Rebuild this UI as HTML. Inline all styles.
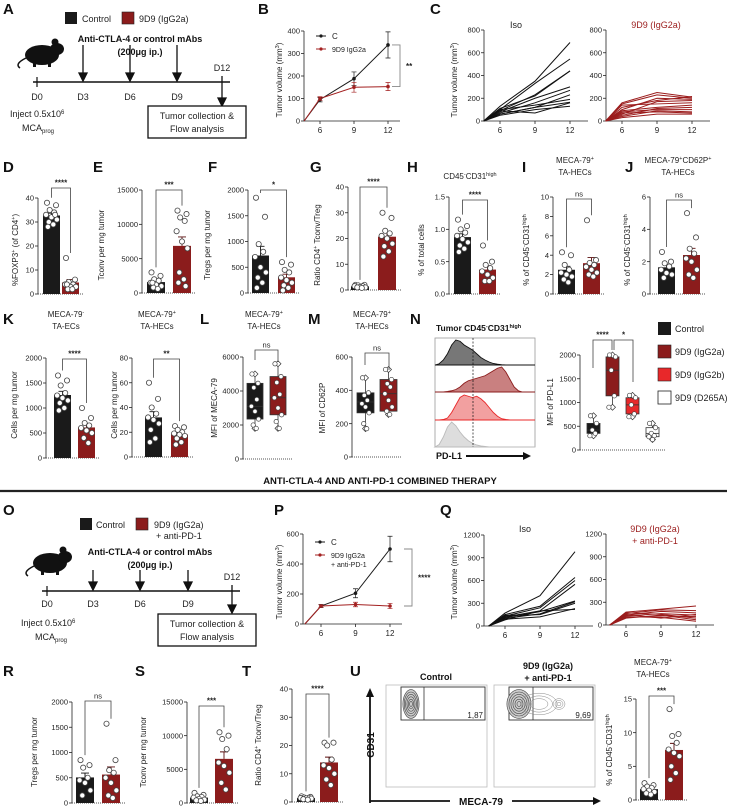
<!DOCTYPE html>
<html><head><meta charset="utf-8">
<style>
html,body{margin:0;padding:0;background:#fff;}
svg{display:block;font-family:"Liberation Sans",sans-serif;}
.lt{font-weight:bold;font-size:15px;fill:#111;}
.t8{font-size:8px;fill:#222;}
.t9{font-size:9px;fill:#222;}
.b9{font-size:9px;font-weight:bold;fill:#111;}
</style></head>
<body>
<svg id="fig" width="729" height="810" viewBox="0 0 729 810" xmlns="http://www.w3.org/2000/svg">
<!-- Panel letters -->
<g>
<text class="lt" x="3" y="14">A</text><text class="lt" x="258" y="14">B</text><text class="lt" x="430" y="14">C</text>
<text class="lt" x="3" y="172">D</text><text class="lt" x="93" y="172">E</text><text class="lt" x="208" y="172">F</text><text class="lt" x="310" y="172">G</text><text class="lt" x="407" y="172">H</text><text class="lt" x="522" y="172">I</text><text class="lt" x="625" y="172">J</text>
<text class="lt" x="3" y="324">K</text><text class="lt" x="200" y="324">L</text><text class="lt" x="308" y="324">M</text><text class="lt" x="410" y="324">N</text>
<text class="lt" x="3" y="515">O</text><text class="lt" x="274" y="515">P</text><text class="lt" x="440" y="515">Q</text>
<text class="lt" x="3" y="676">R</text><text class="lt" x="135" y="676">S</text><text class="lt" x="242" y="676">T</text><text class="lt" x="350" y="676">U</text>
</g>

<!-- Panel A schematic -->
<g>
<rect x="65" y="12" width="12" height="12" fill="#1a1a1a"/>
<text class="t9" x="82" y="22">Control</text>
<rect x="122" y="12" width="12" height="12" fill="#8b1c1c" stroke="#222" stroke-width="0.6"/>
<text class="t9" x="139" y="22">9D9 (IgG2a)</text>
<text class="b9" x="140" y="42" text-anchor="middle">Anti-CTLA-4 or control mAbs</text>
<text class="b9" x="140" y="55" text-anchor="middle">(200μg ip.)</text>
<g fill="#111">
<ellipse cx="42" cy="55" rx="17" ry="10"/><ellipse cx="57" cy="49" rx="7" ry="6"/><circle cx="55" cy="42" r="3.5"/><path d="M26 58 Q14 64 20 68" stroke="#111" stroke-width="1.5" fill="none"/><rect x="33" y="62" width="3" height="5"/><rect x="48" y="62" width="3" height="5"/>
</g>
<line x1="33" y1="82" x2="230" y2="82" stroke="#111" stroke-width="1.5"/>
<g stroke="#111" stroke-width="1.2"><line x1="37" y1="77" x2="37" y2="87"/></g>
<g stroke="#111" stroke-width="1.3" fill="#111">
<line x1="83" y1="45" x2="83" y2="76"/><path d="M79 73 L87 73 L83 81Z"/>
<line x1="130" y1="45" x2="130" y2="76"/><path d="M126 73 L134 73 L130 81Z"/>
<line x1="177" y1="45" x2="177" y2="76"/><path d="M173 73 L181 73 L177 81Z"/>
<line x1="222" y1="76" x2="222" y2="100"/><path d="M218 98 L226 98 L222 106Z"/>
</g>
<g class="t9">
<text x="37" y="100" text-anchor="middle">D0</text><text x="83" y="100" text-anchor="middle">D3</text><text x="130" y="100" text-anchor="middle">D6</text><text x="177" y="100" text-anchor="middle">D9</text><text x="222" y="71" text-anchor="middle">D12</text>
<text x="10" y="117">Inject 0.5x10<tspan font-size="6" dy="-3">6</tspan></text>
<text x="22" y="131">MCA<tspan font-size="6" dy="2">prog</tspan></text>
</g>
<rect x="148" y="106" width="98" height="32" fill="#fff" stroke="#111" stroke-width="1.3"/>
<text class="t9" x="197" y="119" text-anchor="middle">Tumor collection &amp;</text>
<text class="t9" x="197" y="132" text-anchor="middle">Flow analysis</text>
</g>

<!-- Panel O schematic -->
<g>
<rect x="80" y="518" width="12" height="12" fill="#1a1a1a"/>
<text class="t9" x="96" y="528">Control</text>
<rect x="136" y="518" width="12" height="12" fill="#8b1c1c" stroke="#222" stroke-width="0.6"/>
<text class="t9" x="154" y="528">9D9 (IgG2a)</text>
<text class="t9" x="156" y="539">+ anti-PD-1</text>
<text class="b9" x="150" y="555" text-anchor="middle">Anti-CTLA-4 or control mAbs</text>
<text class="b9" x="150" y="568" text-anchor="middle">(200μg ip.)</text>
<g fill="#111">
<ellipse cx="50" cy="563" rx="17" ry="10"/><ellipse cx="65" cy="557" rx="7" ry="6"/><circle cx="63" cy="550" r="3.5"/><path d="M34 566 Q22 572 28 576" stroke="#111" stroke-width="1.5" fill="none"/><rect x="41" y="570" width="3" height="5"/><rect x="56" y="570" width="3" height="5"/>
</g>
<line x1="42" y1="591" x2="240" y2="591" stroke="#111" stroke-width="1.5"/>
<line x1="47" y1="586" x2="47" y2="596" stroke="#111" stroke-width="1.2"/>
<g stroke="#111" stroke-width="1.3" fill="#111">
<line x1="93" y1="570" x2="93" y2="585"/><path d="M89 582 L97 582 L93 590Z"/>
<line x1="140" y1="570" x2="140" y2="585"/><path d="M136 582 L144 582 L140 590Z"/>
<line x1="188" y1="570" x2="188" y2="585"/><path d="M184 582 L192 582 L188 590Z"/>
<line x1="232" y1="585" x2="232" y2="607"/><path d="M228 605 L236 605 L232 613Z"/>
</g>
<g class="t9"><text x="47" y="607" text-anchor="middle">D0</text><text x="93" y="607" text-anchor="middle">D3</text><text x="140" y="607" text-anchor="middle">D6</text><text x="188" y="607" text-anchor="middle">D9</text><text x="232" y="580" text-anchor="middle">D12</text>
<text x="21" y="626">Inject 0.5x10<tspan font-size="6" dy="-3">6</tspan></text><text x="35" y="640">MCA<tspan font-size="6" dy="2">prog</tspan></text></g>
<rect x="158" y="614" width="98" height="32" fill="#fff" stroke="#111" stroke-width="1.3"/>
<text class="t9" x="207" y="627" text-anchor="middle">Tumor collection &amp;</text>
<text class="t9" x="207" y="640" text-anchor="middle">Flow analysis</text>
</g>

<!-- Section header -->
<text x="380" y="484" text-anchor="middle" font-size="9.5" font-weight="bold" fill="#111">ANTI-CTLA-4 AND ANTI-PD-1 COMBINED THERAPY</text>
<line x1="0" y1="491" x2="727" y2="491" stroke="#222" stroke-width="2.2"/>

<!-- Static titles and y labels -->
<g class="t8" text-anchor="middle">
<text x="470" y="179">CD45<tspan font-size="5.5" dy="-3">-</tspan><tspan dy="3">CD31</tspan><tspan font-size="5.5" dy="-3">high</tspan></text>
<text x="575" y="163">MECA-79<tspan font-size="5.5" dy="-3">+</tspan></text><text x="575" y="175">TA-HECs</text>
<text x="678" y="163">MECA-79<tspan font-size="5.5" dy="-3">+</tspan><tspan dy="3">CD62P</tspan><tspan font-size="5.5" dy="-3">+</tspan></text><text x="678" y="175">TA-HECs</text>
<text x="66" y="317">MECA-79<tspan font-size="5.5" dy="-3">-</tspan></text><text x="66" y="329">TA-ECs</text>
<text x="157" y="317">MECA-79<tspan font-size="5.5" dy="-3">+</tspan></text><text x="157" y="329">TA-HECs</text>
<text x="264" y="317">MECA-79<tspan font-size="5.5" dy="-3">+</tspan></text><text x="264" y="329">TA-HECs</text>
<text x="372" y="317">MECA-79<tspan font-size="5.5" dy="-3">+</tspan></text><text x="372" y="329">TA-HECs</text>
<text x="653" y="665">MECA-79<tspan font-size="5.5" dy="-3">+</tspan></text><text x="653" y="677">TA-HECs</text>
</g>
<g id="ylabels" class="t8" text-anchor="middle">
<text transform="translate(18,250) rotate(-90)">%FOXP3<tspan font-size="5.5" dy="-3">+</tspan><tspan dy="3"> (of CD4</tspan><tspan font-size="5.5" dy="-3">+</tspan><tspan dy="3">)</tspan></text>
<text transform="translate(104,245) rotate(-90)">Tconv per mg tumor</text>
<text transform="translate(210,245) rotate(-90)">Tregs per mg tumor</text>
<text transform="translate(320,245) rotate(-90)">Ratio CD4<tspan font-size="5.5" dy="-3">+</tspan><tspan dy="3"> Tconv/Treg</tspan></text>
<text transform="translate(424,250) rotate(-90)">% of total cells</text>
<text transform="translate(529,250) rotate(-90)">% of CD45<tspan font-size="5.5" dy="-3">-</tspan><tspan dy="3">CD31</tspan><tspan font-size="5.5" dy="-3">high</tspan></text>
<text transform="translate(630,250) rotate(-90)">% of CD45<tspan font-size="5.5" dy="-3">-</tspan><tspan dy="3">CD31</tspan><tspan font-size="5.5" dy="-3">high</tspan></text>
<text transform="translate(17,405) rotate(-90)">Cells per mg tumor</text>
<text transform="translate(117,405) rotate(-90)">Cells per mg tumor</text>
<text transform="translate(217,408) rotate(-90)">MFI of MECA-79</text>
<text transform="translate(325,408) rotate(-90)">MFI of CD62P</text>
<text transform="translate(553,402) rotate(-90)">MFI of PD-L1</text>
<text transform="translate(37,752) rotate(-90)">Tregs per mg tumor</text>
<text transform="translate(146,752) rotate(-90)">Tconv per mg tumor</text>
<text transform="translate(261,745) rotate(-90)">Ratio CD4<tspan font-size="5.5" dy="-3">+</tspan><tspan dy="3"> Tconv/Treg</tspan></text>
<text transform="translate(612,750) rotate(-90)">% of CD45<tspan font-size="5.5" dy="-3">-</tspan><tspan dy="3">CD31</tspan><tspan font-size="5.5" dy="-3">high</tspan></text>
<text transform="translate(282,80) rotate(-90)">Tumor volume (mm<tspan font-size="5.5" dy="-3">3</tspan><tspan dy="3">)</tspan></text>
<text transform="translate(457,80) rotate(-90)">Tumor volume (mm<tspan font-size="5.5" dy="-3">3</tspan><tspan dy="3">)</tspan></text>
<text transform="translate(282,582) rotate(-90)">Tumor volume (mm<tspan font-size="5.5" dy="-3">3</tspan><tspan dy="3">)</tspan></text>
<text transform="translate(457,582) rotate(-90)">Tumor volume (mm<tspan font-size="5.5" dy="-3">3</tspan><tspan dy="3">)</tspan></text>
</g>
<g class="t9" text-anchor="middle">
<text x="516" y="28">Iso</text><text x="656" y="28" fill="#9b1c1c">9D9 (IgG2a)</text>
<text x="525" y="532">Iso</text><text x="655" y="532" fill="#9b1c1c">9D9 (IgG2a)</text><text x="655" y="544" fill="#9b1c1c">+ anti-PD-1</text>
</g>

<!-- N legend -->
<g>
<rect x="658" y="322" width="13" height="13" fill="#1a1a1a"/><text class="t9" x="675" y="332">Control</text>
<rect x="658" y="345" width="13" height="13" fill="#8b1c1c" stroke="#222" stroke-width="0.6"/><text class="t9" x="675" y="355">9D9 (IgG2a)</text>
<rect x="658" y="368" width="13" height="13" fill="#e8282a" stroke="#222" stroke-width="0.6"/><text class="t9" x="675" y="378">9D9 (IgG2b)</text>
<rect x="658" y="391" width="13" height="13" fill="#fff" stroke="#222" stroke-width="0.8"/><text class="t9" x="675" y="401">9D9 (D265A)</text>
</g>
<text x="436" y="331" font-size="8.5" font-weight="bold" fill="#111">Tumor CD45<tspan font-size="5.5" dy="-3">-</tspan><tspan dy="3">CD31</tspan><tspan font-size="5.5" dy="-3">high</tspan></text>
<text x="436" y="459" font-size="9" font-weight="bold" fill="#111">PD-L1</text>
<g><line x1="466" y1="456" x2="525" y2="456" stroke="#111" stroke-width="2"/><path d="M523 452 L531 456 L523 460Z" fill="#111"/></g>

<!-- U flow labels -->
<text x="436" y="680" text-anchor="middle" class="b9">Control</text>
<text x="548" y="669" text-anchor="middle" class="b9">9D9 (IgG2a)</text>
<text x="548" y="681" text-anchor="middle" class="b9">+ anti-PD-1</text>
<g><line x1="370" y1="803" x2="370" y2="695" stroke="#111" stroke-width="1.8"/><path d="M366 697 L370 688 L374 697Z" fill="#111"/></g>
<text transform="translate(374,745) rotate(-90)" text-anchor="middle" class="b9" style="font-size:10px">CD31</text>
<g><line x1="370" y1="801" x2="595" y2="801" stroke="#111" stroke-width="1.8"/><path d="M593 797 L601 801 L593 805Z" fill="#111"/></g>
<rect x="450" y="793" width="62" height="14" fill="#fff"/>
<text x="481" y="805" text-anchor="middle" class="b9" style="font-size:10px">MECA-79</text>

<g id="dyn"></g>
</svg>

<script>
// ===== Data =====
const growthDays = [4.6, 6, 9, 12];
const B_ctrl = [0, 95, 188, 338];
const B_ctrlErr = [0, 10, 30, 58];
const B_trt = [0, 100, 150, 153];
const B_trtErr = [0, 8, 22, 18];
const P_ctrl = [0, 120, 205, 500];
const P_ctrlErr = [0, 10, 30, 85];
const P_trt = [0, 120, 130, 120];
const P_trtErr = [0, 8, 15, 18];

const C_iso = [[0,130,350,690],[0,100,330,545],[0,90,230,440],[0,110,220,440],[0,80,200,300],[0,70,160,270],[0,60,120,230],[0,100,140,190],[0,60,120,165],[0,90,70,160],[0,50,100,130]];
const C_9d9 = [[0,160,250,210],[0,150,230,200],[0,120,180,215],[0,100,200,190],[0,60,170,180],[0,140,150,160],[0,90,120,140],[0,50,110,120],[0,80,100,100],[0,40,90,80],[0,70,80,70],[0,30,60,60]];
const Q_iso = [[0,170,400,980],[0,150,260,640],[0,130,240,600],[0,120,200,550],[0,110,190,330],[0,100,160,320],[0,140,150,300],[0,90,120,230],[0,80,200,220]];
const Q_9d9 = [[0,170,210,250],[0,150,200,190],[0,130,180,160],[0,120,150,130],[0,100,120,110],[0,160,140,90],[0,90,130,70],[0,110,100,50],[0,140,90,140]];

const D_ctrl = [38,37,35,34,33,32,31,30,29,28,33];
const D_trt = [15,6,5,4,4,3,3,2,2,4];
const E_ctrl = [3000,2500,2000,1800,1500,1200,1000,800,600,1500];
const E_trt = [12000,11500,11000,10500,9000,7500,6500,3000,2000,1500,1000];
const F_ctrl = [1850,1480,950,800,700,500,400,300,200,100];
const F_trt = [600,550,450,400,300,250,200,150,100,50];
const G_ctrl = [2,2,1.8,1.5,1.5,1.2,1,1,0.8];
const G_trt = [30,28,23,22,21,20,18,17,15,13];
const H_ctrl = [1.15,1.05,1.0,0.95,0.9,0.85,0.8,0.75,0.7,0.65];
const H_trt = [0.75,0.5,0.45,0.4,0.35,0.3,0.25,0.2,0.2];
const I_ctrl = [4.3,4,3,2.5,2.2,2,1.8,1.5,1.2];
const I_trt = [7.6,3.5,3.2,3,2.8,2.5,2.2,2,1.8];
const J_ctrl = [2.6,2,1.9,1.7,1.5,1.3,1.2,1];
const J_trt = [5,3.5,2.8,2.5,2.2,2,1.5,1.2,1];
const K1_ctrl = [1650,1550,1450,1300,1250,1200,1150,1100,1000,950];
const K1_trt = [1000,800,700,650,600,550,500,400,300];
const K2_ctrl = [60,47,40,35,32,30,27,22,15,12];
const K2_trt = [25,24,22,20,19,18,17,15,12,10];
const R_ctrl = [850,750,700,500,450,400,250,150];
const R_trt = [1570,850,650,600,500,400,250,150,100];
const S_ctrl = [1500,1200,1000,900,800,600,500,400,300];
const S_trt = [10500,10000,9500,8000,6000,5500,4500,3000,2000];
const T_ctrl = [2,1.8,1.6,1.5,1.4,1.3,1.2,1,0.8];
const T_trt = [21,21,20,15,13,12,10,8,6];
const U_ctrl = [2.5,2.2,2,1.8,1.6,1.4,1.2,1,0.8];
const U_trt = [13.5,9.8,9.5,8.5,7.5,7,6.5,5,4,3];

// box stats: [min, q1, median, q3, max]
const L_box = [[1800,2350,3100,4450,5000],[1800,2600,3600,4850,5600]];
const L_pts = [[5000,4450,4200,3500,3100,2800,2350,2000,1800],[5600,4850,4500,3800,3600,3000,2600,2200,1800]];
const M_box = [[170,265,330,385,475],[255,275,380,465,525]];
const M_pts = [[475,385,370,340,320,300,265,200,170],[525,465,440,420,380,340,300,275,255]];
const N_box = [[300,350,420,560,720],[900,1140,1680,1960,2000],[700,760,950,1100,1150],[220,280,350,470,560]];
const N_pts = [[720,560,420,350,300],[2000,1960,1680,1140,900],[1150,1100,950,760,700],[560,470,350,300,280,220]];

const Bticks = [0,100,200,300,400];
const Cticks = [0,200,400,600,800];
const Pticks = [0,200,400,600];
const Qticks = [0,300,600,900,1200];
const dayTicks = [6,9,12];

// N histograms (relative density over 25 bins)
const N_hist_ctrl = [0,0.05,0.2,0.45,0.8,1,0.95,0.8,0.7,0.6,0.45,0.3,0.2,0.12,0.06,0.03,0.01,0,0,0,0,0,0,0,0];
const N_hist_g2a = [0,0,0,0.02,0.05,0.1,0.2,0.35,0.45,0.5,0.55,0.6,0.65,0.75,0.85,0.95,1,0.8,0.5,0.2,0.05,0,0,0,0];
const N_hist_g2b = [0,0,0.02,0.08,0.3,0.6,0.9,1,0.95,0.9,0.95,0.85,0.7,0.5,0.3,0.15,0.05,0.02,0,0,0,0,0,0,0];
const N_hist_d265 = [0,0.1,0.4,0.8,1,0.85,0.6,0.4,0.25,0.15,0.08,0.04,0.02,0,0,0,0,0,0,0,0,0,0,0,0];

const U_gate = [1.87, 9.69];

// ===== Drawing =====
const NS = "http://www.w3.org/2000/svg";
const root = document.getElementById('dyn');
function mk(tag, attrs, parent) {
  const e = document.createElementNS(NS, tag);
  for (const k in attrs) e.setAttribute(k, attrs[k]);
  (parent || root).appendChild(e);
  return e;
}
const BLK = "#1a1a1a", DRED = "#8b1c1c", RED = "#e8282a";
function mean(a){return a.reduce((s,v)=>s+v,0)/a.length;}
function sem(a){const m=mean(a);return Math.sqrt(a.reduce((s,v)=>s+(v-m)*(v-m),0)/(a.length-1))/Math.sqrt(a.length);}
function fmt(v, dec){return dec ? v.toFixed(dec) : String(v);}

function yAxis(g, ax, y0, yT, ticks, dec) {
  const max = ticks[ticks.length-1];
  const ys = v => y0 - v/max*(y0-yT);
  const l = mk('line', {x1:ax,y1:y0,x2:ax,y2:yT,stroke:'#222','stroke-width':0.8}, g);
  
  
  ticks.forEach(t => {
    mk('line', {x1:ax-3,y1:ys(t),x2:ax,y2:ys(t),stroke:'#222','stroke-width':0.8}, g);
    const tx = mk('text', {x:ax-4,y:ys(t)+2.6,'text-anchor':'end','font-size':7.5,fill:'#222'}, g);
    tx.textContent = fmt(t, dec);
    
    
  });
  return ys;
}
function sigBracket(g, x1, x2, yb, y1b, y2b, label) {
  mk('path', {d:`M${x1} ${y1b} L${x1} ${yb} L${x2} ${yb} L${x2} ${y2b}`, fill:'none', stroke:'#444','stroke-width':0.8}, g);
  const t = mk('text', {x:(x1+x2)/2, y:yb-2.5, 'text-anchor':'middle','font-size':label==='ns'?7.5:8, 'font-weight':label==='ns'?'normal':'bold', fill:'#222'}, g);
  t.textContent = label;
  
  
}
const jit = [-5,5,-2,3,-6,0,6,-3,2,-4,4];
function pointsAt(g, cx, vals, ys) {
  vals.forEach((v,i) => {
    const c = mk('circle', {cx:cx+jit[i%jit.length]*0.9, cy:ys(v), r:2.6, fill:'#fff', stroke:'#444','stroke-width':0.8}, g);
    
    
  });
}
function barPanel(name, ax, y0, yT, ticks, ctrl, trt, bx, bw, sigY, sig, dec) {
  const g = mk('g', {});
  
  
  const ys = yAxis(g, ax, y0, yT, ticks, dec);
  const xa = mk('line', {x1:ax,y1:y0,x2:bx[1]+bw+5,y2:y0,stroke:'#555','stroke-width':1,'stroke-dasharray':'1 1'}, g);
  
  
  [ctrl, trt].forEach((d, i) => {
    const m = mean(d), s = sem(d), x = bx[i];
    const r = mk('rect', {x:x, y:ys(m), width:bw, height:y0-ys(m), fill:i?DRED:BLK}, g);
    
    
    const cx = x + bw/2;
    mk('path', {d:`M${cx} ${ys(m)} L${cx} ${ys(m+s)} M${cx-4} ${ys(m+s)} L${cx+4} ${ys(m+s)}`, stroke:i?'#5a0e0e':'#111','stroke-width':0.9, fill:'none'}, g);
    pointsAt(g, cx, d, ys);
  });
  const top0 = Math.min(ys(Math.max(...ctrl)), ys(mean(ctrl)+sem(ctrl))) - 5;
  const top1 = Math.min(ys(Math.max(...trt)), ys(mean(trt)+sem(trt))) - 5;
  sigBracket(g, bx[0]+bw/2, bx[1]+bw/2, sigY, Math.max(top0, sigY+3), Math.max(top1, sigY+3), sig);
}
function boxPanel(name, ax, y0, yT, ticks, boxes, pts, bx, bw, colors, xEnd) {
  const g = mk('g', {});
  
  
  const ys = yAxis(g, ax, y0, yT, ticks, 0);
  const xa = mk('line', {x1:ax,y1:y0,x2:xEnd,y2:y0,stroke:'#555','stroke-width':1,'stroke-dasharray':'1 1'}, g);
  
  
  boxes.forEach((b, i) => {
    const x = bx[i], cx = x + bw/2;
    mk('line', {x1:cx,y1:ys(b[0]),x2:cx,y2:ys(b[4]),stroke:'#333','stroke-width':0.8}, g);
    const r = mk('rect', {x:x, y:ys(b[3]), width:bw, height:ys(b[1])-ys(b[3]), fill:colors[i], stroke:'#333','stroke-width':0.8}, g);
    
    
    mk('line', {x1:x,y1:ys(b[2]),x2:x+bw,y2:ys(b[2]),stroke:'#333','stroke-width':0.8}, g);
    [b[0], b[4]].forEach(v => { const d = mk('path', {d:`M${cx} ${ys(v)-3} L${cx+3} ${ys(v)} L${cx} ${ys(v)+3} L${cx-3} ${ys(v)}Z`, fill:'#fff', stroke:'#333','stroke-width':0.7}, g); });
    pts[i].forEach((v, j) => {
      const c = mk('circle', {cx:cx+jit[j%jit.length]*0.6, cy:ys(v), r:2.2, fill:'#fff', stroke:'#444','stroke-width':0.7}, g);
      
      
    });
  });
  return {g, ys};
}
function xDayAxis(g, ax, y0, x6, x12, xEnd) {
  const xs = d => x6 + (d-6)*(x12-x6)/6;
  mk('line', {x1:ax,y1:y0,x2:xEnd,y2:y0,stroke:'#222','stroke-width':0.8}, g);
  dayTicks.forEach(d => {
    mk('line', {x1:xs(d),y1:y0,x2:xs(d),y2:y0+3,stroke:'#222','stroke-width':0.8}, g);
    const t = mk('text', {x:xs(d),y:y0+12,'text-anchor':'middle','font-size':8,fill:'#222'}, g);
    t.textContent = d;
    
    
  });
  return xs;
}
function growthPanel(name, ax, y0, yT, ticks, x6, x12, ctrl, cErr, trt, tErr, legendY, lines2, brX, sig) {
  const g = mk('g', {});
  
  
  const ys = yAxis(g, ax, y0, yT, ticks, 0);
  const xs = xDayAxis(g, ax, y0, x6, x12, x12+12);
  [[ctrl,cErr,BLK],[trt,tErr,'#a32020']].forEach(([d,e,col], i) => {
    const p = mk('polyline', {points: growthDays.map((dd,k)=>xs(dd)+','+ys(d[k])).join(' '), fill:'none', stroke:col,'stroke-width':1}, g);
    
    
    growthDays.forEach((dd,k) => {
      if (k===0) return;
      mk('path', {d:`M${xs(dd)} ${ys(d[k]-e[k])} L${xs(dd)} ${ys(d[k]+e[k])} M${xs(dd)-2.5} ${ys(d[k]-e[k])} L${xs(dd)+2.5} ${ys(d[k]-e[k])} M${xs(dd)-2.5} ${ys(d[k]+e[k])} L${xs(dd)+2.5} ${ys(d[k]+e[k])}`, stroke:col,'stroke-width':0.7,fill:'none'}, g);
      mk('circle', {cx:xs(dd), cy:ys(d[k]), r:1.8, fill:col}, g);
    });
  });
  // legend
  const lx = ax + 12;
  mk('line', {x1:lx,y1:legendY,x2:lx+10,y2:legendY,stroke:BLK,'stroke-width':1}, g);
  mk('circle', {cx:lx+5,cy:legendY,r:1.6,fill:BLK}, g);
  const t1 = mk('text', {x:lx+16,y:legendY+3,'font-size':8,fill:'#222'}, g); t1.textContent = 'C';
  mk('line', {x1:lx,y1:legendY+13,x2:lx+10,y2:legendY+13,stroke:'#a32020','stroke-width':1}, g);
  mk('circle', {cx:lx+5,cy:legendY+13,r:1.6,fill:'#a32020'}, g);
  lines2.forEach((s, i) => { const t = mk('text', {x:lx+16,y:legendY+16+i*9,'font-size':7,fill:'#222'}, g); t.textContent = s; });
  // bracket
  const yc = ys(ctrl[3]), yt = ys(trt[3]);
  mk('path', {d:`M${brX-8} ${yc} L${brX} ${yc} L${brX} ${yt} L${brX-8} ${yt}`, fill:'none', stroke:'#888','stroke-width':0.9}, g);
  const st = mk('text', {x:brX+6,y:(yc+yt)/2+3,'font-size':8,'font-weight':'bold',fill:'#222'}, g);
  st.textContent = sig;
  
  
}
function spaghetti(name, ax, y0, yT, ticks, x6, x12, lines, col) {
  const g = mk('g', {});
  
  
  const ys = yAxis(g, ax, y0, yT, ticks, 0);
  const xs = xDayAxis(g, ax, y0, x6, x12, x12+18);
  lines.forEach(l => {
    const p = mk('polyline', {points: growthDays.map((d,k)=>xs(d)+','+ys(l[k])).join(' '), fill:'none', stroke:col,'stroke-width':1}, g);
    
    
  });
}

growthPanel('panel-b-growth', 304, 121, 31, Bticks, 320, 388, B_ctrl, B_ctrlErr, B_trt, B_trtErr, 36, ['9D9 IgG2a'], 400, '**');
growthPanel('panel-p-growth', 303, 624, 534, Pticks, 321, 390, P_ctrl, P_ctrlErr, P_trt, P_trtErr, 542, ['9D9 IgG2a','+ anti-PD-1'], 412, '****');
spaghetti('panel-c-iso', 484, 121, 30, Cticks, 500, 570, C_iso, '#111');
spaghetti('panel-c-9d9', 606, 121, 30, Cticks, 622, 692, C_9d9, '#9b1c1c');
spaghetti('panel-q-iso', 484, 626, 535, Qticks, 505, 575, Q_iso, '#111');
spaghetti('panel-q-9d9', 606, 625, 534, Qticks, 626, 696, Q_9d9, '#9b1c1c');

barPanel('panel-d-foxp3', 38, 294, 198, [0,10,20,30,40], D_ctrl, D_trt, [43,62], 17, 188, '****');
barPanel('panel-e-tconv', 142, 293, 190, [0,5000,10000,15000], E_ctrl, E_trt, [147,173], 18, 190, '***');
barPanel('panel-f-tregs', 248, 293, 190, [0,500,1000,1500,2000], F_ctrl, F_trt, [252,278], 17, 190, '*');
barPanel('panel-g-ratio', 348, 290, 187, [0,10,20,30,40], G_ctrl, G_trt, [351,378], 18, 187, '****');
barPanel('panel-h-ecs', 449, 294, 197, [0,0.5,1.0,1.5], H_ctrl, H_trt, [454,479], 17, 200, '****', 1);
barPanel('panel-i-hecs', 553, 294, 197, [0,2,4,6,8,10], I_ctrl, I_trt, [558,583], 17, 199, 'ns');
barPanel('panel-j-hecs', 650, 294, 197, [0,2,4,6], J_ctrl, J_trt, [658,683], 17, 200, 'ns');
barPanel('panel-k-ecs', 46, 458, 358, [0,500,1000,1500,2000], K1_ctrl, K1_trt, [54,78], 17, 359, '****');
barPanel('panel-k-hecs', 132, 457, 358, [0,20,40,60,80], K2_ctrl, K2_trt, [145,171], 17, 359, '**');
barPanel('panel-r-tregs', 72, 803, 702, [0,500,1000,1500,2000], R_ctrl, R_trt, [76,102], 18, 701, 'ns');
barPanel('panel-s-tconv', 187, 803, 702, [0,5000,10000,15000], S_ctrl, S_trt, [190,215], 18, 706, '***');
barPanel('panel-t-ratio', 292, 802, 689, [0,10,20,30,40], T_ctrl, T_trt, [297,320], 18, 694, '****');
barPanel('panel-u-hecs', 636, 800, 699, [0,5,10,15], U_ctrl, U_trt, [640,665], 18, 696, '***');

const L = boxPanel('panel-l-meca79-mfi', 243, 459, 357, [0,2000,4000,6000], L_box, L_pts, [247,270], 16, [BLK, DRED], 292);
sigBracket(L.g, 255, 278, 350, 360, 362, 'ns');
const M = boxPanel('panel-m-cd62p-mfi', 352, 457, 357, [0,200,400,600], M_box, M_pts, [357,380], 17, [BLK, DRED], 402);
sigBracket(M.g, 365, 389, 353, 365, 370, 'ns');
const N = boxPanel('panel-n-pdl1-mfi', 580, 450, 355, [0,500,1000,1500,2000], N_box, N_pts, [587,606,626,646], 13, [BLK, DRED, RED, '#fff'], 665);
sigBracket(N.g, 593, 612, 340, 368, 350, '****');
sigBracket(N.g, 614, 633, 340, 350, 382, '*');

// N histograms
(function(){
  const g = mk('g', {});
  
  
  mk('rect', {x:435,y:338,width:100,height:109,fill:'#fff',stroke:'#999','stroke-width':0.8}, g);
  const rows = [[N_hist_ctrl,365,'#777','#111'],[N_hist_g2a,392,'#c98080','#8b1c1c'],[N_hist_g2b,420,'#f2a0a0','#e8282a'],[N_hist_d265,447,'#ddd','#bbb']];
  rows.forEach(([h, base, fillc, strk]) => {
    const xs = i => 435 + i*100/(h.length-1);
    let d = `M435 ${base}`;
    h.forEach((v,i) => { d += ` L${xs(i)} ${base - v*25}`; });
    d += ` L535 ${base} Z`;
    const p = mk('path', {d, fill:fillc, stroke:strk, 'stroke-width':0.9}, g);
    
    
    mk('line', {x1:435,y1:base,x2:535,y2:base,stroke:strk,'stroke-width':0.8}, g);
  });
  mk('line', {x1:473,y1:338,x2:473,y2:447,stroke:'#111','stroke-width':0.7,'stroke-dasharray':'2 1.5'}, g);
})();

// U flow contour plots
(function(){
  const g = mk('g', {});
  
  
  const plots = [[386, 424, U_gate[0]], [494, 533, U_gate[1]]];
  plots.forEach(([x0, gx, val], idx) => {
    mk('rect', {x:x0,y:685,width:101,height:102,fill:'#fff',stroke:'#bbb','stroke-width':0.8}, g);
    const gate = mk('rect', {x:x0+15,y:687,width:84,height:33,fill:'none',stroke:'#333','stroke-width':0.9}, g);
    
    
    mk('line', {x1:gx,y1:687,x2:gx,y2:720,stroke:'#333','stroke-width':0.8}, g);
    const cx = x0 + 25, cy = 704;
    [9,7.5,6,4.5,3,1.5].forEach((r, k) => mk('ellipse', {cx, cy, rx:r*0.9+ (idx?4:0)*(r/9), ry:r*1.6, fill: k===0?'#ccc':'none', stroke:'#444','stroke-width':0.6}, g));
    if (idx) { [12,9,6].forEach(r => mk('ellipse', {cx:cx+20, cy:cy, rx:r*1.5, ry:r*0.9, fill:'none', stroke:'#888','stroke-width':0.5}, g)); [6,4,2].forEach(r => mk('ellipse', {cx:cx+40, cy:cy, rx:r, ry:r*0.9, fill:'none', stroke:'#888','stroke-width':0.5}, g)); }
    const t = mk('text', {x:x0+97,y:718,'text-anchor':'end','font-size':8,fill:'#222'}, g);
    t.textContent = val.toFixed(2).replace('.', ',');
    
    
  });
})();
</script>
</body></html>
